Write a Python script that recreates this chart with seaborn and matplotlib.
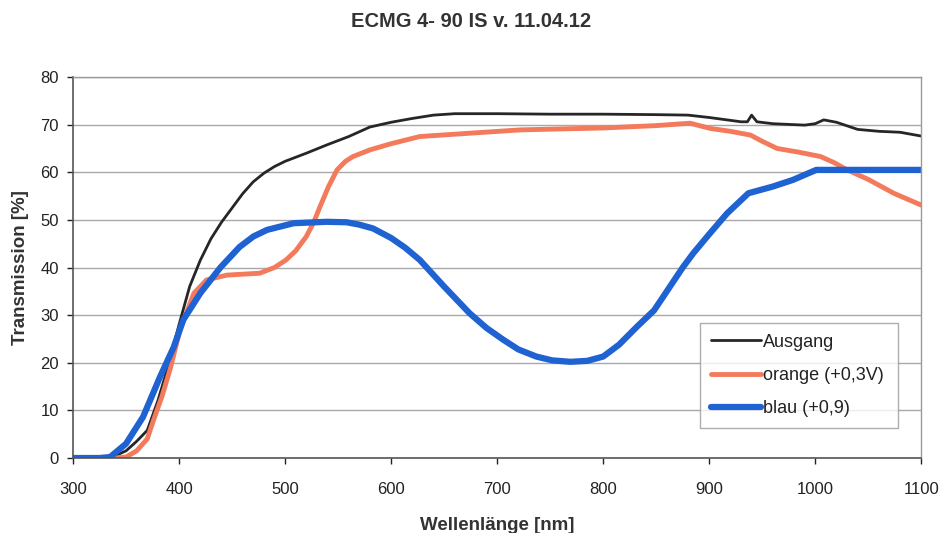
import matplotlib
matplotlib.use("Agg")
import matplotlib.pyplot as plt
import seaborn as sns

title = "ECMG 4- 90 IS v. 11.04.12"
xlabel = "Wellenlänge [nm]"
ylabel = "Transmission [%]"
names = ["Ausgang", "orange (+0,3V)", "blau (+0,9)"]

wl_ausgang = [300, 330, 340, 350, 360, 370, 380, 390, 400, 410, 420, 430, 440, 450, 460, 470, 480, 490, 500,
              520, 540, 560, 580, 600, 620, 640, 660, 700, 750, 800, 850, 880, 900, 930, 936, 940, 945, 960,
              990, 1000, 1008, 1020, 1040, 1060, 1080, 1100]
t_ausgang = [0, 0, 0.5, 1.5, 3.5, 5.8, 12, 19.5, 28, 36, 41.5, 46, 49.5, 52.5, 55.5, 58, 59.8, 61.2, 62.3,
             64, 65.8, 67.5, 69.5, 70.5, 71.3, 72, 72.3, 72.3, 72.2, 72.2, 72.1, 72, 71.5, 70.6, 70.6, 72, 70.6, 70.2,
             69.9, 70.2, 71, 70.5, 69, 68.6, 68.4, 67.6]

wl_orange = [300, 340, 350, 360, 370, 376, 384, 392, 401, 414, 426, 445, 460, 476, 490, 501, 510, 520, 527, 533,
             541, 549, 557, 564, 580, 600, 627, 674, 722, 760, 800, 850, 882, 901, 920, 939, 950, 964, 985, 1005,
             1018, 1030, 1050, 1074, 1100]
t_orange = [0, 0, 0.2, 1.5, 4, 8, 13, 19, 27, 34.6, 37.4, 38.4, 38.6, 38.8, 40, 41.6, 43.5, 46.5, 49.5, 52.8,
            57, 60.5, 62.3, 63.3, 64.7, 66, 67.5, 68.2, 68.9, 69.1, 69.3, 69.8, 70.3, 69.2, 68.6, 67.8, 66.5, 65, 64.2,
            63.3, 62, 60.5, 58.5, 55.6, 53.1]

wl_blau = [300, 325, 335, 350, 366, 382, 395, 404, 420, 439, 457, 470, 483, 508, 539, 558, 570, 583, 600, 613,
           627, 650, 674, 690, 706, 720, 737, 752, 769, 785, 800, 815, 832, 848, 863, 875, 885, 900, 917, 937,
           960, 979, 1001, 1100]
t_blau = [0, 0, 0.2, 3, 8.6, 17, 23.3, 29, 34.6, 40, 44.3, 46.5, 47.9, 49.3, 49.6, 49.5, 49.0, 48.2, 46.2, 44.2,
          41.6, 36, 30.4, 27.3, 24.8, 22.8, 21.3, 20.5, 20.2, 20.4, 21.3, 23.8, 27.6, 31, 36, 40, 43, 47, 51.4, 55.6,
          57, 58.4, 60.5, 60.5]

x_ticks = list(range(300, 1101, 100))
y_ticks = list(range(0, 81, 10))

sns.set_theme(style="white")
plt.rcParams["font.family"] = ["Liberation Sans", "DejaVu Sans"]

fig = plt.figure(figsize=(9.42, 5.33), dpi=100)
ax = fig.add_axes([0.0775, 0.1407, 0.9005, 0.7148])

ax.set_axisbelow(True)
ax.yaxis.grid(True, color="#a8a8a8", linewidth=1.0)
ax.xaxis.grid(False)

sns.lineplot(x=wl_ausgang, y=t_ausgang, ax=ax, color="#262626", linewidth=2.0, label=names[0])
sns.lineplot(x=wl_orange, y=t_orange, ax=ax, color="#f47a5c", linewidth=3.5, label=names[1])
sns.lineplot(x=wl_blau, y=t_blau, ax=ax, color="#1f62d2", linewidth=4.5, label=names[2])

ax.set_xlim(300, 1100)
ax.set_ylim(0, 80)
ax.set_xticks(x_ticks)
ax.set_yticks(y_ticks)
ax.tick_params(axis="both", labelsize=12, colors="#222222", length=4, width=1, direction="out",
               bottom=True, left=True)
ax.tick_params(axis="x", pad=13)
ax.tick_params(axis="y", pad=6)

for s in ["left", "bottom"]:
    ax.spines[s].set_color("#555555")
    ax.spines[s].set_linewidth(1.2)
for s in ["top", "right"]:
    ax.spines[s].set_color("#9a9a9a")
    ax.spines[s].set_linewidth(1.0)

ax.set_xlabel(xlabel, fontsize=13.5, fontweight="bold", color="#333333", labelpad=15)
ax.set_ylabel(ylabel, fontsize=13.5, fontweight="bold", color="#333333", labelpad=8)
fig.suptitle(title, x=0.5, y=0.978, fontsize=14.5, fontweight="bold", color="#333333")

leg = ax.legend(loc="lower left", bbox_to_anchor=(0.739, 0.079, 0.234, 0.275), mode="expand",
                fontsize=13, frameon=True, fancybox=False, handlelength=2.8, handletextpad=0.1,
                borderaxespad=0, labelspacing=0.9, borderpad=0.6)
leg.get_frame().set_edgecolor("#999999")
leg.get_frame().set_linewidth(1.0)
for t in leg.get_texts():
    t.set_color("#222222")

fig.savefig("out.png", dpi=100)
